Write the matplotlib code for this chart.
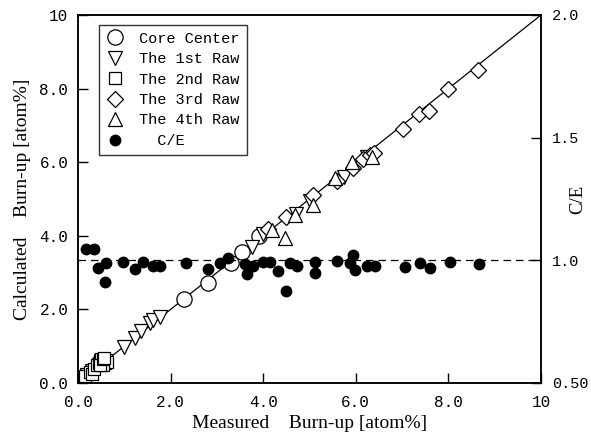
import matplotlib
matplotlib.use('Agg')
import matplotlib.pyplot as plt

# Core Center (measured, calculated) burn-up [atom%]
core_x = [2.30, 2.80, 3.30, 3.55, 3.90]
core_y = [2.28, 2.72, 3.25, 3.55, 4.00]

# The 1st Raw
raw1_x = [0.20, 0.30, 0.45, 0.99, 1.23, 1.37, 1.55, 1.62, 1.77, 3.75, 4.00, 4.70, 5.00, 5.75, 6.25]
raw1_y = [0.22, 0.33, 0.48, 0.98, 1.22, 1.41, 1.63, 1.71, 1.79, 3.70, 4.05, 4.60, 4.95, 5.60, 6.15]

# The 2nd Raw
raw2_x = [0.15, 0.25, 0.30, 0.35, 0.40, 0.45, 0.48, 0.50, 0.52, 0.55, 0.58, 0.60,
          0.62, 0.50, 0.55, 0.47, 0.53, 0.57]
raw2_y = [0.20, 0.30, 0.25, 0.38, 0.48, 0.55, 0.62, 0.58, 0.52, 0.60, 0.55, 0.62,
          0.58, 0.66, 0.48, 0.50, 0.64, 0.68]

# The 3rd Raw
raw3_x = [4.10, 4.50, 5.08, 5.60, 5.94, 6.16, 6.30, 6.39, 7.02, 7.37, 7.58, 7.99, 8.64]
raw3_y = [4.18, 4.50, 5.10, 5.50, 5.84, 6.10, 6.20, 6.25, 6.90, 7.31, 7.39, 7.99, 8.50]

# The 4th Raw
raw4_x = [4.19, 4.47, 4.69, 5.08, 5.55, 5.92, 6.35]
raw4_y = [4.16, 3.94, 4.56, 4.84, 5.57, 6.00, 6.14]

# C/E
ce_x = [0.17, 0.35, 0.43, 0.60, 0.58, 0.98, 1.23, 1.41, 1.62, 1.77, 2.33, 2.81,
        3.07, 3.25, 3.60, 3.65, 3.78, 4.00, 4.15, 4.32, 4.49, 4.58, 4.73, 5.12,
        5.12, 5.59, 5.87, 5.94, 5.98, 6.24, 6.41, 7.06, 7.39, 7.60, 8.03, 8.66]
ce_y = [1.046, 1.046, 0.970, 0.990, 0.910, 0.995, 0.965, 0.995, 0.975, 0.975,
        0.990, 0.965, 0.990, 1.010, 0.985, 0.945, 0.975, 0.995, 0.995, 0.955,
        0.875, 0.990, 0.975, 0.993, 0.950, 0.997, 0.990, 1.020, 0.960, 0.975,
        0.975, 0.973, 0.990, 0.970, 0.993, 0.985]

left_ticks = [0, 2, 4, 6, 8, 10]
left_labels = ['0.0', '2.0', '4.0', '6.0', '8.0', '10']
bottom_labels = ['0.0', '2.0', '4.0', '6.0', '8.0', '10']
right_ticks = [0.5, 1.0, 1.5, 2.0]
right_labels = ['0.50', '1.0', '1.5', '2.0']

mono = 'Liberation Mono'
serif = 'Liberation Serif'

fig = plt.figure(figsize=(5.91, 4.36), dpi=100)
ax = fig.add_axes([0.132, 0.1216, 0.7834, 0.844])
ax2 = ax.twinx()

ax.plot([0, 10], [0, 10], color='black', lw=0.9, zorder=1)
ax2.axhline(1.0, color='black', lw=0.9, ls=(0, (6, 4)), zorder=1)

mk = dict(ls='none', mfc='white', mec='black', mew=0.9)
h1, = ax.plot(core_x, core_y, marker='o', ms=11, label='Core Center', **mk)
h2, = ax.plot(raw1_x, raw1_y, marker='v', ms=10, label='The 1st Raw', **mk)
h3, = ax.plot(raw2_x, raw2_y, marker='s', ms=8, label='The 2nd Raw', **mk)
h4, = ax.plot(raw3_x, raw3_y, marker='D', ms=8, label='The 3rd Raw', **mk)
h5, = ax.plot(raw4_x, raw4_y, marker='^', ms=10, label='The 4th Raw', **mk)
h6, = ax2.plot(ce_x, ce_y, ls='none', marker='o', ms=7.5, color='black', label='  C/E')

ax.set_xlim(0, 10)
ax.set_ylim(0, 10)
ax2.set_ylim(0.5, 2.0)

ax.set_xticks(left_ticks)
ax.set_xticklabels(bottom_labels, fontfamily=mono, fontsize=11.5)
ax.set_yticks(left_ticks)
ax.set_yticklabels(left_labels, fontfamily=mono, fontsize=11.5)
ax2.set_yticks(right_ticks)
ax2.set_yticklabels(right_labels, fontfamily=mono, fontsize=11)

ax.tick_params(axis='both', direction='in', length=7, width=1, pad=7)
ax.tick_params(axis='x', pad=9)
ax2.tick_params(axis='y', direction='in', length=7, width=1, pad=8)

for a in (ax, ax2):
    for s in a.spines.values():
        s.set_linewidth(1.1)

ax.set_xlabel('Measured    Burn-up [atom%]', fontfamily=serif, fontsize=14, labelpad=3)
ax.set_ylabel('Calculated    Burn-up [atom%]', fontfamily=serif, fontsize=14, labelpad=6)
ax2.set_ylabel('C/E', fontfamily=serif, fontsize=13.5, rotation=90)
ax2.yaxis.set_label_coords(1.062, 0.5)

leg = ax2.legend(handles=[h1, h2, h3, h4, h5, h6], loc='upper left',
                 bbox_to_anchor=(0.045, 0.973), frameon=True, fancybox=False,
                 edgecolor='black', prop={'family': mono, 'size': 11},
                 handlelength=1.2, handletextpad=1.0, labelspacing=0.42,
                 borderpad=0.45, borderaxespad=0)
leg.get_frame().set_linewidth(1.0)

fig.savefig('out.png', dpi=100)
